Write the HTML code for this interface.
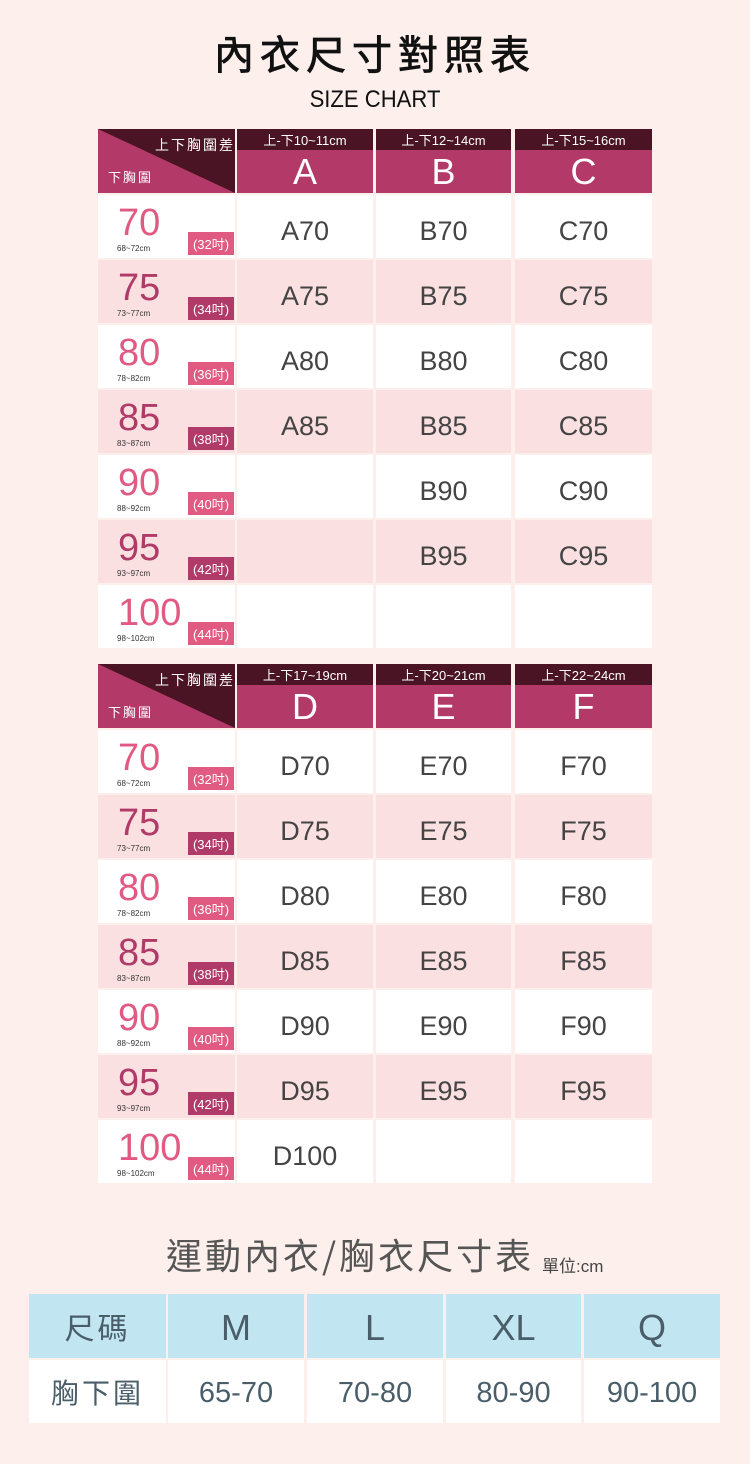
<!DOCTYPE html>
<html><head><meta charset="utf-8"><style>
body{margin:0;width:750px;height:1464px;background:#fdf0ec;position:relative;overflow:hidden;font-family:"Liberation Sans","Noto Sans CJK TC",sans-serif}
.a{position:absolute;box-sizing:border-box}
.c{display:flex;align-items:center;justify-content:center}
</style></head><body>
<div class="a c" style="left:0;top:26px;width:750px;height:52px;font-size:40px;color:#111;letter-spacing:6px;-webkit-text-stroke:0.8px #111;font-family:'Noto Sans CJK TC',sans-serif">內衣尺寸對照表</div>
<div class="a c" style="left:0;top:86px;width:750px;height:28px;font-size:24px;color:#111;transform:scaleX(0.92)">SIZE CHART</div>
<div id="t"></div>
<div class="a" style="left:166px;top:1228px;height:50px;font-size:36px;color:#555;letter-spacing:3px;font-family:'Noto Sans CJK TC',sans-serif;white-space:nowrap">運動內衣/胸衣尺寸表</div>
<div class="a" style="left:542px;top:1252px;font-size:17px;color:#444">單位:cm</div>
<div id="b"></div>
<script>
var h='';
function box(x,y,w,hh,bg,extra,txt){h+='<div class="a c" style="left:'+x+'px;top:'+y+'px;width:'+w+'px;height:'+hh+'px;background:'+bg+';'+(extra||'')+'">'+(txt||'')+'</div>';}
var cols=[[237,136],[376,135],[515,137]];
function table(y0,letters,ranges,data){
  h+='<svg class="a" style="left:98px;top:'+y0+'px" width="137" height="64"><rect width="137" height="64" fill="#b33a68"/><polygon points="0,0 137,0 137,64" fill="#4a1425"/></svg>';
  h+='<div class="a" style="left:155px;top:'+(y0+6)+'px;font-size:14px;color:#fff;letter-spacing:2px">上下胸圍差</div>';
  h+='<div class="a" style="left:108px;top:'+(y0+38)+'px;font-size:13px;color:#fff;letter-spacing:2px">下胸圍</div>';
  for(var i=0;i<3;i++){var c=cols[i];
    box(c[0],y0,c[1],21,'#4a1425','color:#fff;font-size:13px','上-下'+ranges[i]);
    box(c[0],y0+21,c[1],43,'#b33a68','color:#fff;font-size:36px',letters[i]);}
  var nums=['70','75','80','85','90','95','100'],cm=['68~72cm','73~77cm','78~82cm','83~87cm','88~92cm','93~97cm','98~102cm'],inch=['32','34','36','38','40','42','44'];
  for(var r=0;r<7;r++){var y=y0+66+r*65;var bg=r%2?'#fbe0e1':'#fff';var col=r%2?'#b03a68':'#e05a82';
    box(98,y,137,63,bg);
    h+='<div class="a" style="left:118px;top:'+(y+8)+'px;font-size:38px;color:'+col+';line-height:40px">'+nums[r]+'</div>';
    h+='<div class="a" style="left:117px;top:'+(y+49)+'px;font-size:8px;color:#333">'+cm[r]+'</div>';
    box(188,y+37,46,23,col,'color:#fff;font-size:13px','('+inch[r]+'吋)');
    for(var i=0;i<3;i++){var c=cols[i];box(c[0],y,c[1],63,bg,'color:#444;font-size:27px;padding-top:9px',data[i][r]||'');}
  }
}
function mk(L,n){var o=[];for(var r=0;r<n;r++)o.push(L+[70,75,80,85,90,95,100][r]);return o;}
table(129,['A','B','C'],['10~11cm','12~14cm','15~16cm'],[mk('A',4),mk('B',6),mk('C',6)]);
table(664,['D','E','F'],['17~19cm','20~21cm','22~24cm'],[mk('D',7),mk('E',6),mk('F',6)]);
document.getElementById('t').outerHTML=h;
h='';
var bc=[[29,137],[168,136],[307,136],[446,135],[584,136]];
var hd=['尺碼','M','L','XL','Q'],rw=['胸下圍','65-70','70-80','80-90','90-100'];
for(var i=0;i<5;i++){var c=bc[i];
  box(c[0],1294,c[1],64,'#c2e5f2','color:#4a5e6a;padding-top:'+(i?4:0)+'px;font-size:'+(i?36:30)+'px;letter-spacing:'+(i?0:3)+'px',hd[i]);
  box(c[0],1360,c[1],63,'#fff','color:#4a5e6a;padding-top:'+(i?4:0)+'px;font-size:'+(i?29:28)+'px;letter-spacing:'+(i?0:3)+'px',rw[i]);}
document.getElementById('b').outerHTML=h;
</script>
</body></html>
